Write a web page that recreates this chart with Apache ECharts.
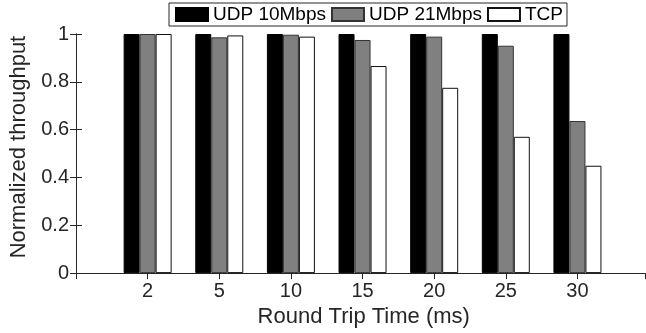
<!DOCTYPE html>
<html>
<head>
<meta charset="utf-8">
<script src="https://cdn.jsdelivr.net/npm/echarts@6/dist/echarts.min.js"></script>
<style>
html,body{margin:0;padding:0;background:#fff;}
#chart{width:646px;height:333px;}
</style>
</head>
<body>
<div id="chart"></div>
<script>
const categories = ['2', '5', '10', '15', '20', '25', '30'];
const seriesNames = ['UDP 10Mbps', 'UDP 21Mbps', 'TCP'];
const udp10 = [1, 1, 1, 1, 1, 1, 1];
const udp21 = [1.0, 0.986, 0.997, 0.975, 0.989, 0.951, 0.636];
const tcp = [1.0, 0.994, 0.989, 0.866, 0.775, 0.570, 0.449];

const FONT = '"Liberation Sans", Arial, Helvetica, sans-serif';
const AX = '#262626';

function pts(arr) { return arr.map((v, i) => [i + 1, v]); }

const chart = echarts.init(document.getElementById('chart'), null, {renderer: 'canvas'});
const axisCommon = {
  axisLine: {show: true, lineStyle: {color: AX, width: 1}},
  axisTick: {show: true, inside: true, length: 6, lineStyle: {color: AX}},
  splitLine: {show: false}
};
chart.setOption({
  animation: false,
  textStyle: {fontFamily: FONT},
  legend: {
    left: 169, top: 3,
    padding: [2, 4, 2, 6],
    itemGap: 5,
    itemWidth: 32, itemHeight: 13,
    icon: 'rect',
    borderColor: AX, borderWidth: 1,
    backgroundColor: '#fff',
    textStyle: {fontSize: 19, color: '#000', fontFamily: FONT},
    data: seriesNames
  },
  grid: {left: 76, right: 0.5, top: 34, bottom: 58, containLabel: false},
  xAxis: [{
    type: 'value', min: 0, max: 7.95, interval: 1,
    position: 'bottom',
    name: 'Round Trip Time (ms)', nameLocation: 'middle', nameGap: 26,
    nameTextStyle: {fontSize: 22, color: AX, fontFamily: FONT, padding: [0, 0, 0, 6]},
    axisLabel: {
      fontSize: 20, color: AX, margin: 8, fontFamily: FONT,
      showMaxLabel: false,
      formatter: v => (Number.isInteger(v) && v >= 1 && v <= categories.length) ? categories[v - 1] : ''
    },
    ...axisCommon
  }, {
    type: 'value', min: 0, max: 7.95, interval: 1,
    position: 'top',
    axisLabel: {show: false},
    ...axisCommon
  }],
  yAxis: [{
    type: 'value', min: 0, max: 1, interval: 0.2,
    position: 'left',
    name: 'Normalized throughput', nameLocation: 'middle', nameGap: 40,
    nameTextStyle: {fontSize: 22, color: AX, fontFamily: FONT, padding: [0, 0, 0, 13]},
    axisLabel: {fontSize: 20, color: AX, margin: 7, fontFamily: FONT},
    ...axisCommon
  }, {
    type: 'value', min: 0, max: 1, interval: 0.2,
    position: 'right',
    axisLabel: {show: false},
    ...axisCommon
  }],
  series: [
    {name: seriesNames[0], type: 'bar', data: pts(udp10), barWidth: 16, barGap: '0%',
     itemStyle: {color: '#000000', borderColor: '#000000', borderWidth: 1}},
    {name: seriesNames[1], type: 'bar', data: pts(udp21), barWidth: 16, barGap: '0%',
     itemStyle: {color: '#808080', borderColor: '#333333', borderWidth: 1}},
    {name: seriesNames[2], type: 'bar', data: pts(tcp), barWidth: 16, barGap: '0%',
     itemStyle: {color: '#ffffff', borderColor: '#111111', borderWidth: 1}}
  ]
});
</script>
</body>
</html>
